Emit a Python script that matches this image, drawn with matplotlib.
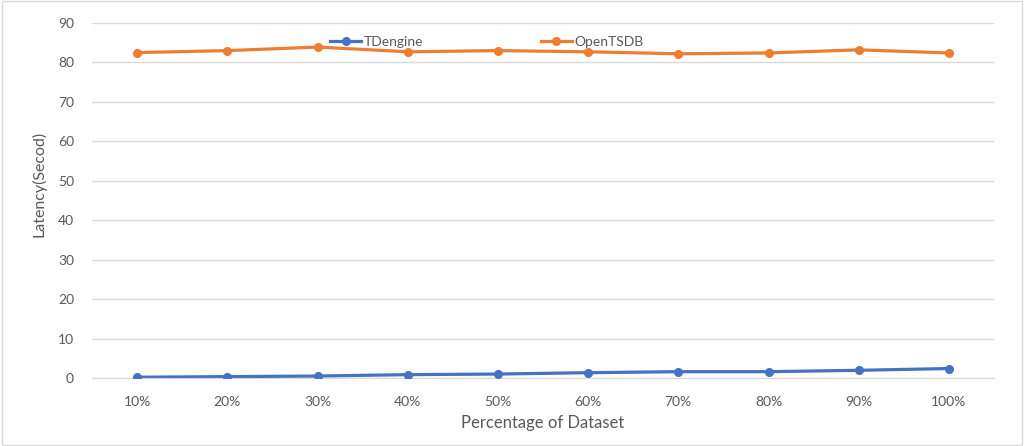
import matplotlib
matplotlib.use('Agg')
import matplotlib.pyplot as plt
from matplotlib.patches import Rectangle

plt.rcParams['font.family'] = ['Lato', 'DejaVu Sans']

# data
categories = ['10%', '20%', '30%', '40%', '50%', '60%', '70%', '80%', '90%', '100%']
tdengine = [0.2, 0.35, 0.5, 0.85, 1.0, 1.35, 1.6, 1.6, 1.95, 2.4]
opentsdb = [82.5, 83.0, 83.9, 82.7, 83.0, 82.7, 82.2, 82.4, 83.2, 82.4]

grey_text = '#595959'
grid_col = '#D9D9D9'

fig = plt.figure(figsize=(10.24, 4.46), dpi=100)
ax = fig.add_axes([92/1024, 68/446, (994-92)/1024, (378-23)/446])

x = range(len(categories))
ax.plot(x, tdengine, color='#4472C4', lw=2.3, marker='o', ms=5.5, label='TDengine', zorder=3)
ax.plot(x, opentsdb, color='#ED7D31', lw=2.3, marker='o', ms=5.5, label='OpenTSDB', zorder=3)

ax.set_xlim(-0.5, len(categories) - 0.5)
ax.set_ylim(0, 90)
ax.set_yticks(range(0, 91, 10))
ax.set_xticks(list(x))
ax.set_xticklabels(categories)
ax.grid(axis='y', color=grid_col, lw=1)
ax.set_axisbelow(True)
for s in ['top', 'right', 'left']:
    ax.spines[s].set_visible(False)
ax.spines['bottom'].set_color(grid_col)
ax.tick_params(axis='both', length=0, colors=grey_text, labelsize=10)
ax.tick_params(axis='y', pad=13)
ax.tick_params(axis='x', pad=13)

ax.set_xlabel('Percentage of Dataset', color=grey_text, fontsize=12, labelpad=5)
ax.set_ylabel('Latency(Secod)', color=grey_text, fontsize=11.5)
# excel puts the axis title a little above the middle
ax.yaxis.set_label_coords(-0.05, 0.546)

leg = ax.legend(loc='center', bbox_to_anchor=(487/1024, 1 - 42/446), bbox_transform=fig.transFigure,
                ncol=2, frameon=False, fontsize=10, columnspacing=8.5, handlelength=2.2,
                handletextpad=0.2, labelcolor=grey_text)

fig.patches.append(Rectangle((0.002, 0.003), 0.996, 0.994, transform=fig.transFigure,
                             fill=False, edgecolor='#D9D9D9', lw=1))

fig.savefig('out.png', dpi=100)
